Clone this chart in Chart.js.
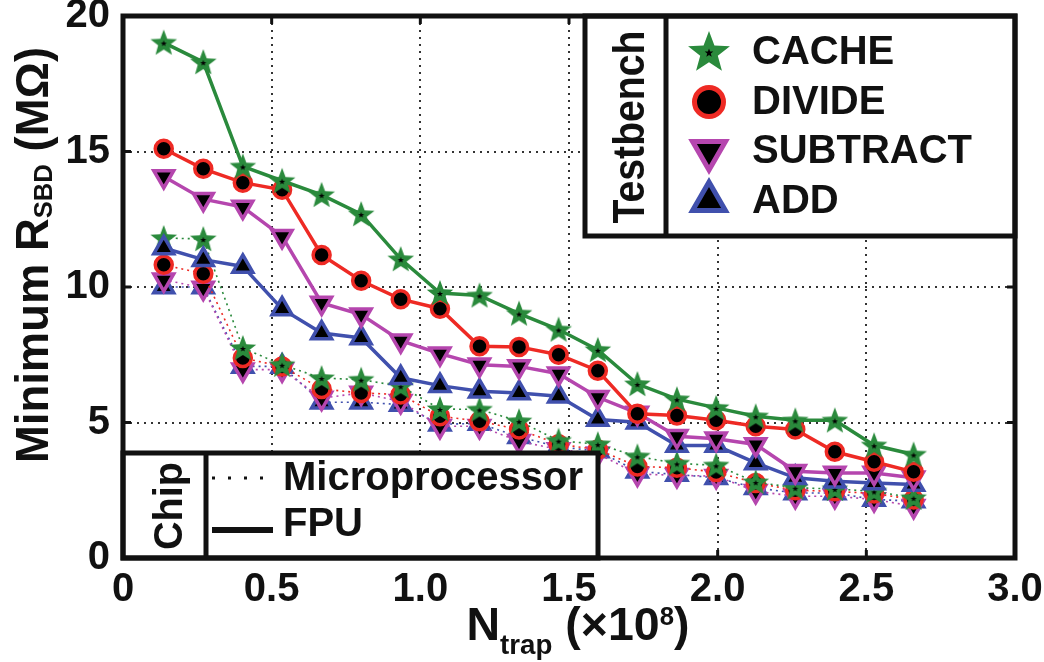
<!DOCTYPE html>
<html>
<head>
<meta charset="utf-8">
<script src="https://cdn.jsdelivr.net/npm/chart.js@4.4.1/dist/chart.umd.min.js"></script>
<style>
    html, body { margin: 0; padding: 0; background: #fff; }
    #chart { display: block; }
</style>
</head>
<body>
<canvas id="chart" width="1044" height="662"></canvas>
<script>
// N_trap (x10^8) at each sample
const nTrap = [0.137, 0.270, 0.403, 0.535, 0.668, 0.801, 0.934, 1.066, 1.199, 1.332,
               1.465, 1.597, 1.730, 1.863, 1.995, 2.128, 2.261, 2.394, 2.526, 2.659];

// Minimum R_SBD (MOhm), FPU chip
const cacheFpu    = [19.02, 18.30, 14.45, 13.92, 13.40, 12.69, 11.03, 9.78, 9.69, 9.02,
                     8.43, 7.68, 6.42, 5.86, 5.54, 5.23, 5.08, 5.08, 4.16, 3.82];
const divideFpu   = [15.10, 14.36, 13.85, 13.59, 11.18, 10.23, 9.55, 9.20, 7.81, 7.79,
                     7.50, 6.91, 5.32, 5.26, 5.08, 4.86, 4.74, 3.92, 3.55, 3.18];
const subtractFpu = [14.08, 13.24, 12.95, 11.87, 9.41, 8.98, 8.02, 7.54, 7.13, 7.07,
                     6.80, 5.93, 5.35, 4.49, 4.40, 4.19, 3.20, 3.14, 3.14, 2.96];
const addFpu      = [11.44, 11.01, 10.76, 9.19, 8.30, 8.12, 6.65, 6.36, 6.15, 6.09,
                     5.97, 5.11, 5.01, 4.15, 4.15, 3.51, 2.96, 2.83, 2.77, 2.71];

// Minimum R_SBD (MOhm), microprocessor chip
const cacheMicro    = [11.81, 11.77, 7.75, 7.13, 6.64, 6.58, 6.34, 5.50, 5.48, 5.05,
                       4.33, 4.20, 3.75, 3.49, 3.42, 2.80, 2.59, 2.55, 2.46, 2.22];
const divideMicro   = [10.82, 10.49, 7.38, 7.07, 6.24, 6.09, 6.03, 5.23, 5.05, 4.74,
                       4.20, 4.00, 3.38, 3.33, 3.17, 2.77, 2.50, 2.46, 2.38, 2.16];
const subtractMicro = [10.27, 9.96, 6.95, 6.95, 5.90, 6.09, 5.78, 4.86, 4.86, 4.31,
                       4.00, 3.85, 3.10, 3.05, 3.02, 2.46, 2.28, 2.28, 2.16, 1.91];
const addMicro      = [10.00, 10.00, 7.07, 7.07, 5.75, 5.75, 5.66, 4.94, 4.96, 4.47,
                       4.10, 3.95, 3.20, 3.08, 2.96, 2.59, 2.40, 2.40, 2.16, 2.10];

const testbenchLabels = ["CACHE", "DIVIDE", "SUBTRACT", "ADD"];
const chipLabels = ["Microprocessor", "FPU"];

const FONT = '"Liberation Sans", Arial, sans-serif';
const TEXT = "#111";
const GREEN = "#2a8a3c";
const RED = "#ee2a24";
const MAGENTA = "#b546ae";
const BLUE = "#4050ad";

function makeStar(outer, dot) {
    const size = Math.ceil(outer * 2 + 2);
    const c = document.createElement("canvas");
    c.width = size;
    c.height = size;
    const g = c.getContext("2d");
    function star(r1, color) {
        const r2 = r1 * 0.42;
        g.beginPath();
        for (let i = 0; i < 10; i++) {
            const r = i % 2 === 0 ? r1 : r2;
            const a = -Math.PI / 2 + i * Math.PI / 5;
            const px = size / 2 + r * Math.cos(a);
            const py = size / 2 + 1 + r * Math.sin(a);
            if (i === 0) g.moveTo(px, py); else g.lineTo(px, py);
        }
        g.closePath();
        g.fillStyle = color;
        g.fill();
    }
    star(outer, GREEN);
    star(dot, "#000");
    return c;
}

const starSmall = makeStar(14, 3.2);
const starBig = makeStar(22, 4.5);

const markers = {
    cache: { pointStyle: starSmall, rotation: 0, color: GREEN },
    divide: { pointStyle: "circle", rotation: 0, color: RED },
    subtract: { pointStyle: "triangle", rotation: 180, color: MAGENTA },
    add: { pointStyle: "triangle", rotation: 0, color: BLUE }
};

function series(label, values, kind, dotted, order) {
    const m = markers[kind];
    return {
        label: label,
        data: nTrap.map((x, i) => ({ x: x, y: values[i] })),
        borderColor: m.color,
        borderWidth: dotted ? 1.6 : 3.5,
        borderDash: dotted ? [2, 4] : [],
        tension: 0,
        fill: false,
        pointStyle: m.pointStyle,
        pointRotation: m.rotation,
        pointRadius: m.pointStyle === "circle" ? 8.5 : 11.5,
        pointBackgroundColor: "#000",
        pointBorderColor: m.color,
        pointBorderWidth: 3.5,
        order: order
    };
}

function drawRich(ctx, parts, x, y, angle, target) {
    ctx.save();
    let total = 0;
    parts.forEach(p => {
        ctx.font = `bold ${p.size}px ${FONT}`;
        p.w = ctx.measureText(p.t).width;
        total += p.w;
    });
    const sx = target ? target / total : 1;
    ctx.translate(x, y);
    ctx.rotate(angle);
    ctx.scale(sx, 1);
    ctx.textBaseline = "alphabetic";
    ctx.textAlign = "left";
    ctx.fillStyle = TEXT;
    let cx = -total / 2;
    parts.forEach(p => {
        ctx.font = `bold ${p.size}px ${FONT}`;
        ctx.fillText(p.t, cx, p.dy || 0);
        cx += p.w;
    });
    ctx.restore();
}

const framePlugin = {
    id: "frame",
    afterDraw(chart) {
        const ctx = chart.ctx;
        const { left, top, right, bottom } = chart.chartArea;
        const xs = chart.scales.x;
        const ys = chart.scales.y;

        ctx.save();
        // inward tick marks
        ctx.strokeStyle = "#111";
        ctx.lineWidth = 3;
        xs.ticks.forEach(t => {
            const px = xs.getPixelForValue(t.value);
            ctx.beginPath();
            ctx.moveTo(px, bottom); ctx.lineTo(px, bottom - 8);
            ctx.moveTo(px, top); ctx.lineTo(px, top + 8);
            ctx.stroke();
        });
        ys.ticks.forEach(t => {
            const py = ys.getPixelForValue(t.value);
            ctx.beginPath();
            ctx.moveTo(left, py); ctx.lineTo(left + 8, py);
            ctx.moveTo(right, py); ctx.lineTo(right - 8, py);
            ctx.stroke();
        });

        // testbench legend box
        ctx.lineWidth = 5;
        ctx.strokeStyle = "#111";
        ctx.fillStyle = "#fff";
        ctx.fillRect(585, top, right - 585, 236 - top);
        ctx.strokeRect(585, top, right - 585, 236 - top);
        ctx.beginPath();
        ctx.moveTo(666, top); ctx.lineTo(666, 236);
        ctx.stroke();
        drawRich(ctx, [{ t: "Testbench", size: 44 }], 644, 127, -Math.PI / 2, 193);

        const kinds = ["cache", "divide", "subtract", "add"];
        const rowY = [52, 102, 151, 201];
        kinds.forEach((k, i) => {
            const m = markers[k];
            ctx.fillStyle = "#000";
            ctx.strokeStyle = m.color;
            ctx.lineWidth = 5;
            const style = k === "cache" ? starBig : m.pointStyle;
            Chart.helpers.drawPoint(ctx, {
                pointStyle: style,
                rotation: m.rotation,
                radius: k === "divide" ? 14.5 : 19,
                borderWidth: 5
            }, 709, rowY[i]);
            ctx.fillStyle = TEXT;
            ctx.font = `bold 40px ${FONT}`;
            ctx.textAlign = "left";
            ctx.textBaseline = "middle";
            ctx.fillText(testbenchLabels[i], 752, rowY[i] + 1);
        });

        // chip legend box
        ctx.lineWidth = 5;
        ctx.strokeStyle = "#111";
        ctx.fillStyle = "#fff";
        ctx.fillRect(left, 453, 598 - left, bottom - 453);
        ctx.strokeRect(left, 453, 598 - left, bottom - 453);
        ctx.beginPath();
        ctx.moveTo(206, 453); ctx.lineTo(206, bottom);
        ctx.stroke();
        drawRich(ctx, [{ t: "Chip", size: 41 }], 182, 506, -Math.PI / 2, 88);

        ctx.setLineDash([3, 13]);
        ctx.lineWidth = 3;
        ctx.beginPath();
        ctx.moveTo(212, 478); ctx.lineTo(275, 478);
        ctx.stroke();
        ctx.setLineDash([]);
        ctx.lineWidth = 6;
        ctx.beginPath();
        ctx.moveTo(212, 530); ctx.lineTo(273, 530);
        ctx.stroke();
        ctx.fillStyle = TEXT;
        ctx.font = `bold 40px ${FONT}`;
        ctx.textAlign = "left";
        ctx.textBaseline = "middle";
        ctx.fillText(chipLabels[0], 283, 479);
        ctx.fillText(chipLabels[1], 283, 525);

        // plot frame
        ctx.lineWidth = 5;
        ctx.strokeStyle = "#111";
        ctx.strokeRect(left, top, right - left, bottom - top);

        // axis titles
        drawRich(ctx, [
            { t: "Minimum R", size: 46 },
            { t: "SBD", size: 26, dy: 4 },
            { t: " (M\u03A9)", size: 46 }
        ], 48, 255, -Math.PI / 2, 416);
        drawRich(ctx, [
            { t: "N", size: 47 },
            { t: "trap", size: 28, dy: 14 },
            { t: " (\u00D710", size: 47 },
            { t: "8", size: 26, dy: -15 },
            { t: ")", size: 47 }
        ], 578, 640, 0, 223);
        ctx.restore();
    }
};

const tickFont = { family: FONT, size: 40, weight: "bold" };

new Chart(document.getElementById("chart"), {
    type: "line",
    data: {
        datasets: [
            series("CACHE FPU", cacheFpu, "cache", false, 1),
            series("DIVIDE FPU", divideFpu, "divide", false, 2),
            series("SUBTRACT FPU", subtractFpu, "subtract", false, 3),
            series("ADD FPU", addFpu, "add", false, 4),
            series("CACHE Microprocessor", cacheMicro, "cache", true, 5),
            series("DIVIDE Microprocessor", divideMicro, "divide", true, 6),
            series("SUBTRACT Microprocessor", subtractMicro, "subtract", true, 7),
            series("ADD Microprocessor", addMicro, "add", true, 8)
        ]
    },
    options: {
        responsive: false,
        animation: false,
        devicePixelRatio: 1,
        layout: { padding: { left: 0, right: 29, top: 16, bottom: 0 }, autoPadding: false },
        plugins: {
            legend: { display: false },
            tooltip: { enabled: false }
        },
        scales: {
            x: {
                type: "linear",
                min: 0,
                max: 3,
                afterFit: scale => {
                    scale.height = 104;
                    scale.paddingLeft = 0;
                    scale.paddingRight = 0;
                },
                ticks: {
                    stepSize: 0.5,
                    padding: 8,
                    color: TEXT,
                    font: tickFont,
                    maxRotation: 0,
                    callback: v => (v === 0 ? "0" : v.toFixed(1))
                },
                grid: { color: "#333", lineWidth: 2, drawTicks: false },
                border: { display: false, dash: [2, 5] }
            },
            y: {
                min: 0,
                max: 20,
                afterFit: scale => {
                    scale.width = 123;
                    scale.paddingTop = 0;
                    scale.paddingBottom = 0;
                },
                ticks: {
                    stepSize: 5,
                    padding: 13,
                    color: TEXT,
                    font: tickFont,
                    callback: v => String(v)
                },
                grid: { color: "#333", lineWidth: 2, drawTicks: false },
                border: { display: false, dash: [2, 5] }
            }
        }
    },
    plugins: [framePlugin]
});
</script>
</body>
</html>
